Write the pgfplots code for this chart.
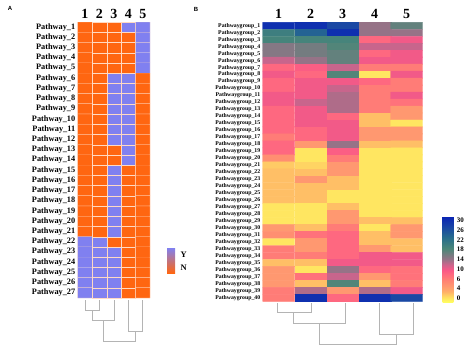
\documentclass[border=0pt]{standalone}
\usepackage{fontspec}
\setmainfont{Liberation Serif}
\newfontfamily\sansf{Liberation Sans}
\usepackage{pgfplots}
\pgfplotsset{compat=1.18}
\usepackage{pgfplotstable}

\definecolor{ycol}{RGB}{128,128,240}
\definecolor{ncol}{RGB}{255,102,17}
\definecolor{dend}{RGB}{180,180,180}

\pgfplotsset{
 colormap={heat}{rgb255(0cm)=(255,255,95) rgb255(0.5cm)=(255,220,98) rgb255(1cm)=(255,175,105) rgb255(1.5cm)=(255,152,112) rgb255(2cm)=(255,132,115) rgb255(2.5cm)=(255,110,125) rgb255(3cm)=(250,88,135) rgb255(3.5cm)=(205,100,140) rgb255(4cm)=(150,115,135) rgb255(5cm)=(75,135,120) rgb255(6cm)=(40,110,140) rgb255(7cm)=(25,70,165) rgb255(8cm)=(10,35,180)},
 colormap={yn}{rgb255(0cm)=(255,102,17) rgb255(1cm)=(128,128,240)},
 colorbar shift/.style={},
}

% Panel A: 1 = Y, 0 = N
\pgfplotstableread[row sep=\\]{
x y v\\
0 0 0\\1 0 0\\2 0 0\\3 0 1\\4 0 1\\
0 1 0\\1 1 0\\2 1 0\\3 1 0\\4 1 1\\
0 2 0\\1 2 0\\2 2 0\\3 2 0\\4 2 1\\
0 3 0\\1 3 0\\2 3 0\\3 3 0\\4 3 1\\
0 4 0\\1 4 0\\2 4 0\\3 4 0\\4 4 1\\
0 5 0\\1 5 0\\2 5 1\\3 5 1\\4 5 0\\
0 6 0\\1 6 0\\2 6 1\\3 6 1\\4 6 0\\
0 7 0\\1 7 0\\2 7 1\\3 7 1\\4 7 0\\
0 8 0\\1 8 0\\2 8 1\\3 8 1\\4 8 0\\
0 9 0\\1 9 0\\2 9 1\\3 9 1\\4 9 0\\
0 10 0\\1 10 0\\2 10 1\\3 10 1\\4 10 0\\
0 11 0\\1 11 0\\2 11 1\\3 11 1\\4 11 0\\
0 12 0\\1 12 0\\2 12 0\\3 12 1\\4 12 0\\
0 13 0\\1 13 0\\2 13 0\\3 13 1\\4 13 0\\
0 14 0\\1 14 0\\2 14 1\\3 14 0\\4 14 0\\
0 15 0\\1 15 0\\2 15 1\\3 15 0\\4 15 0\\
0 16 0\\1 16 0\\2 16 1\\3 16 0\\4 16 0\\
0 17 0\\1 17 0\\2 17 1\\3 17 0\\4 17 0\\
0 18 0\\1 18 0\\2 18 1\\3 18 0\\4 18 0\\
0 19 0\\1 19 0\\2 19 1\\3 19 0\\4 19 0\\
0 20 0\\1 20 0\\2 20 1\\3 20 0\\4 20 0\\
0 21 1\\1 21 1\\2 21 0\\3 21 0\\4 21 0\\
0 22 1\\1 22 1\\2 22 1\\3 22 0\\4 22 0\\
0 23 1\\1 23 1\\2 23 1\\3 23 0\\4 23 0\\
0 24 1\\1 24 1\\2 24 1\\3 24 0\\4 24 0\\
0 25 1\\1 25 1\\2 25 1\\3 25 0\\4 25 0\\
0 26 1\\1 26 1\\2 26 1\\3 26 0\\4 26 0\\
}\tabA

% Panel B values
\pgfplotstableread[row sep=\\]{
x y v\\
0 0 30\\1 0 30\\2 0 27\\3 0 14\\4 0 17\\
0 1 20\\1 1 24\\2 1 30\\3 1 14\\4 1 14\\
0 2 19\\1 2 19\\2 2 19\\3 2 8\\4 2 10\\
0 3 15\\1 3 16\\2 3 18\\3 3 12\\4 3 12\\
0 4 15\\1 4 16\\2 4 17\\3 4 8\\4 4 10\\
0 5 12\\1 5 14\\2 5 17\\3 5 10\\4 5 10\\
0 6 8\\1 6 9\\2 6 12\\3 6 6\\4 6 6\\
0 7 10\\1 7 8\\2 7 18\\3 7 0\\4 7 10\\
0 8 8\\1 8 10\\2 8 10\\3 8 8\\4 8 6\\
0 9 8\\1 9 10\\2 9 12\\3 9 6\\4 9 6\\
0 10 10\\1 10 10\\2 10 13\\3 10 6\\4 10 10\\
0 11 10\\1 11 12\\2 11 13\\3 11 6\\4 11 7\\
0 12 8\\1 12 10\\2 12 13\\3 12 6\\4 12 4.5\\
0 13 8\\1 13 10\\2 13 8\\3 13 2\\4 13 4.5\\
0 14 8\\1 14 10\\2 14 10\\3 14 2\\4 14 0\\
0 15 8\\1 15 8\\2 15 10\\3 15 4.5\\4 15 4.5\\
0 16 6\\1 16 8\\2 16 10\\3 16 4.5\\4 16 4.5\\
0 17 8\\1 17 4.5\\2 17 14\\3 17 2\\4 17 2\\
0 18 8\\1 18 0\\2 18 9\\3 18 0\\4 18 0\\
0 19 5\\1 19 0\\2 19 6\\3 19 0\\4 19 0\\
0 20 1.5\\1 20 1\\2 20 4.5\\3 20 0\\4 20 0\\
0 21 2\\1 21 2\\2 21 4.5\\3 21 0\\4 21 0\\
0 22 2\\1 22 4.5\\2 22 2\\3 22 0\\4 22 0\\
0 23 2\\1 23 2\\2 23 2\\3 23 0\\4 23 0\\
0 24 2\\1 24 2\\2 24 0\\3 24 0\\4 24 0\\
0 25 2\\1 25 2\\2 25 0\\3 25 0\\4 25 0\\
0 26 0\\1 26 0\\2 26 2\\3 26 0\\4 26 0\\
0 27 0\\1 27 0\\2 27 4.5\\3 27 0\\4 27 0\\
0 28 0\\1 28 0\\2 28 4.5\\3 28 2\\4 28 2\\
0 29 4.5\\1 29 2\\2 29 6\\3 29 0\\4 29 4.5\\
0 30 5\\1 30 7\\2 30 8\\3 30 2\\4 30 4.5\\
0 31 0\\1 31 4.5\\2 31 8\\3 31 2\\4 31 2\\
0 32 6\\1 32 4.5\\2 32 8\\3 32 4.5\\4 32 2\\
0 33 6\\1 33 6\\2 33 8\\3 33 10\\4 33 10\\
0 34 2\\1 34 2\\2 34 10\\3 34 10\\4 34 10\\
0 35 4.5\\1 35 0\\2 35 14\\3 35 8\\4 35 7\\
0 36 4.5\\1 36 7\\2 36 12\\3 36 4.5\\4 36 7\\
0 37 4.5\\1 37 2\\2 37 18\\3 37 2\\4 37 6\\
0 38 6\\1 38 13\\2 38 4.5\\3 38 13\\4 38 10\\
0 39 6\\1 39 30\\2 39 8\\3 39 30\\4 39 27\\
}\tabB

\begin{document}
\begin{tikzpicture}
\path[use as bounding box] (0,0) rectangle (474bp,-354bp);

% ---------- Panel A heatmap ----------
\begin{axis}[
  at={(77.7bp,-22bp)}, anchor=north west,
  scale only axis, width=72.3bp, height=276bp,
  xmin=-0.5, xmax=4.5, ymin=-0.5, ymax=26.5, y dir=reverse,
  axis line style={draw=none}, major tick length=0pt,
  xtick={0,...,4}, xticklabel pos=upper,
  xticklabel={\pgfmathtruncatemacro\c{\tick+1}\c},
  xticklabel style={font=\fontsize{14}{14}\selectfont\bfseries, yshift=0bp},
  ytick={0,...,26},
  yticklabel={\pgfmathtruncatemacro\r{\tick+1}Pathway\_\r},
  yticklabel style={font=\fontsize{8.3}{9}\selectfont\bfseries, xshift=1bp},
  colormap name=yn, point meta min=0, point meta max=1,
]
\addplot[matrix plot*, mesh/cols=5, point meta=explicit, shader=faceted, faceted color=white!75!ncol, line width=0.15pt]
  table[x=x, y=y, meta=v]{\tabA};
\end{axis}

% ---------- Panel A dendrogram ----------
\begin{axis}[
  at={(77.7bp,-298bp)}, anchor=north west,
  scale only axis, width=72.3bp, height=50bp,
  xmin=-0.5, xmax=4.5, ymin=298, ymax=348, y dir=reverse,
  hide axis, clip=false,
]
\addplot[dend, line width=0.7pt] coordinates {(0,300) (0,310) (1,310) (1,300)};
\addplot[dend, line width=0.7pt] coordinates {(0.5,310) (0.5,320) (2,320) (2,300)};
\addplot[dend, line width=0.7pt] coordinates {(3,300) (3,331) (4,331) (4,300)};
\addplot[dend, line width=0.7pt] coordinates {(1.25,320) (1.25,341) (3.5,341) (3.5,331)};
\end{axis}

% ---------- Panel A legend ----------
\shade[top color=ycol, bottom color=ncol] (167bp,-248bp) rectangle (175bp,-273bp);
\node[font=\fontsize{8.5}{9}\selectfont\bfseries, anchor=west] at (177bp,-255bp) {Y};
\node[font=\fontsize{8.5}{9}\selectfont\bfseries, anchor=west] at (177bp,-268bp) {N};

% ---------- Panel B heatmap ----------
\begin{axis}[
  at={(262.7bp,-22.3bp)}, anchor=north west,
  scale only axis, width=160bp, height=279bp,
  xmin=-0.5, xmax=4.5, ymin=-0.5, ymax=39.5, y dir=reverse,
  axis line style={draw=none}, major tick length=0pt,
  xtick={0,...,4}, xticklabel pos=upper,
  xticklabel={\pgfmathtruncatemacro\c{\tick+1}\c},
  xticklabel style={font=\fontsize{14}{14}\selectfont\bfseries},
  ytick={0,...,39},
  yticklabel={\pgfmathtruncatemacro\r{\tick+1}Pathwaygroup\_\r},
  yticklabel style={font=\fontsize{5.8}{6}\selectfont\bfseries, xshift=1bp},
  colormap name=heat, point meta min=-0.4, point meta max=8.4,
  colorbar,
  colorbar style={
    at={(parent axis.south east)}, anchor=south west, xshift=20bp, yshift=-1bp,
    scale only axis, width=10.6bp, height=86bp,
    ytick={0,...,8}, yticklabels={0,4,6,10,14,18,22,26,30},
    yticklabel style={font=\fontsize{7}{7}\selectfont\bfseries, xshift=0bp},
    major tick length=0pt, axis line style={draw=none},
  },
]
\addplot[matrix plot*, mesh/cols=5,
  point meta={\thisrow{v}<4 ? \thisrow{v}/4 : (\thisrow{v}<6 ? 1+(\thisrow{v}-4)/2 : 2+(\thisrow{v}-6)/4)}]
  table[x=x, y=y]{\tabB};
\end{axis}

% ---------- Panel B dendrogram ----------
\begin{axis}[
  at={(262.7bp,-301bp)}, anchor=north west,
  scale only axis, width=160bp, height=50bp,
  xmin=262.7, xmax=422.7, ymin=301, ymax=351, y dir=reverse,
  hide axis, clip=false,
]
\addplot[dend, line width=0.7pt] coordinates {(277,303) (277,312.7) (311,312.7) (311,303)};
\addplot[dend, line width=0.7pt] coordinates {(293.3,312.7) (293.3,323.3) (345,323.3) (345,303)};
\addplot[dend, line width=0.7pt] coordinates {(379,303) (379,334) (413,334) (413,303)};
\addplot[dend, line width=0.7pt] coordinates {(319.3,323.3) (319.3,344.3) (396,344.3) (396,334)};
\end{axis}

% panel letters
\node[font=\sansf\bfseries\fontsize{6}{6}\selectfont] at (10bp,-8bp) {A};
\node[font=\sansf\bfseries\fontsize{6}{6}\selectfont] at (196bp,-9bp) {B};
\end{tikzpicture}
\end{document}
